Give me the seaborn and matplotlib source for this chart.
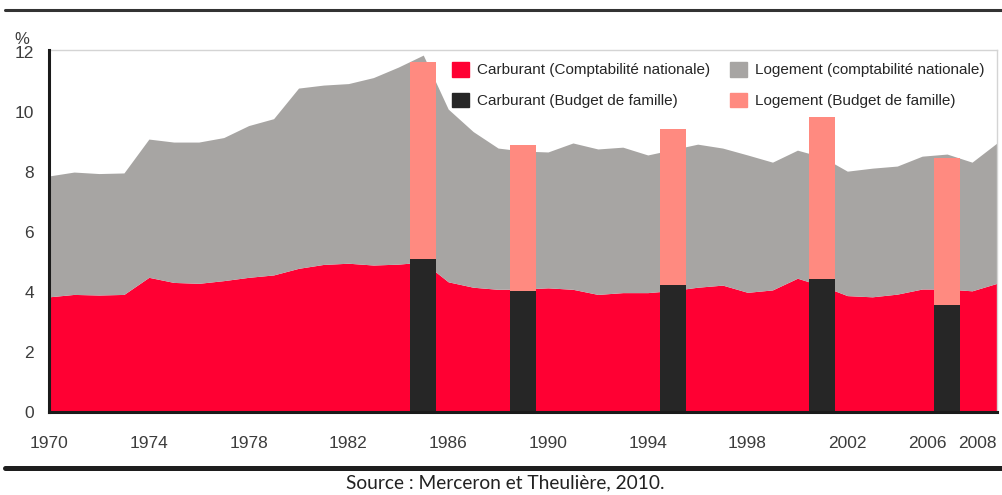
import numpy as np
import matplotlib
matplotlib.use("Agg")
import matplotlib.pyplot as plt
import matplotlib.transforms as mtransforms
from matplotlib.patches import Patch
from matplotlib.lines import Line2D
import seaborn as sns

# Données (% de la consommation)
annees = list(range(1970, 2009))
carburant_cn = [3.84, 3.92, 3.90, 3.92, 4.49, 4.32, 4.29, 4.38, 4.49, 4.57,
                4.79, 4.92, 4.96, 4.90, 4.93, 5.00, 4.34, 4.16, 4.09, 4.10,
                4.14, 4.09, 3.92, 3.98, 3.98, 4.05, 4.16, 4.23, 3.99, 4.07,
                4.46, 4.20, 3.88, 3.84, 3.93, 4.10, 4.10, 4.04, 4.29]
logement_cn = [4.03, 4.08, 4.05, 4.05, 4.61, 4.68, 4.71, 4.77, 5.06, 5.21,
               6.01, 5.98, 5.99, 6.25, 6.57, 6.90, 5.76, 5.19, 4.71, 4.60,
               4.53, 4.88, 4.85, 4.85, 4.59, 4.70, 4.77, 4.57, 4.58, 4.26,
               4.27, 4.30, 4.15, 4.29, 4.27, 4.43, 4.50, 4.29, 4.68]

annees_bdf = [1985, 1989, 1995, 2001, 2006]
carburant_bdf = [5.10, 4.03, 4.23, 4.43, 3.57]
logement_bdf = [6.57, 4.87, 5.20, 5.40, 4.90]

ticks_x = [1970, 1974, 1978, 1982, 1986, 1990, 1994, 1998, 2002, 2006, 2008]
ticks_y = [0, 2, 4, 6, 8, 10, 12]

labels = ["Carburant (Comptabilité nationale)", "Carburant (Budget de famille)",
          "Logement (comptabilité nationale)", "Logement (Budget de famille)"]

ROUGE = "#ff0033"
NOIR = "#262626"
GRIS = "#a7a5a3"
ROSE = "#ff8a80"

sns.set_style("white")
plt.rcParams["font.family"] = ["Liberation Sans", "DejaVu Sans"]

fig = plt.figure(figsize=(10.02, 4.95), dpi=100)
ax = fig.add_axes([0.049, 0.1677, 0.946, 0.7313])

ax.stackplot(annees, carburant_cn, logement_cn, colors=[ROUGE, GRIS], linewidth=0)
ax.bar(annees_bdf, carburant_bdf, width=1.05, color=NOIR, linewidth=0, zorder=3)
ax.bar(annees_bdf, logement_bdf, width=1.05, bottom=carburant_bdf, color=ROSE,
       linewidth=0, zorder=3)

ax.set_xlim(1970, 2008)
ax.set_ylim(0, 12.07)
ax.set_xticks(ticks_x)
ax.set_xticklabels([str(t) for t in ticks_x])
ax.set_yticks(ticks_y)
ax.set_yticklabels([str(t) for t in ticks_y])

ax.tick_params(axis="x", direction="in", length=4, width=1.5, color="#222222",
               pad=17, labelsize=12.5, labelcolor="#3c3c3c")
ax.tick_params(axis="y", direction="in", length=4, width=1.5, color="#222222",
               pad=11, labelsize=12.5, labelcolor="#3c3c3c")
for t in ax.get_xticklabels()[-2:]:
    t.set_transform(t.get_transform() + mtransforms.ScaledTranslation(-0.2, 0, fig.dpi_scale_trans))

for side in ["left", "bottom"]:
    ax.spines[side].set_color("#1a1a1a")
    ax.spines[side].set_linewidth(2.2)
    ax.spines[side].set_zorder(5)
for side in ["top", "right"]:
    ax.spines[side].set_color("#d4d4d4")
    ax.spines[side].set_linewidth(1.0)

fig.text(0.014, 0.912, "%", fontsize=12, color="#3c3c3c")

handles = [Patch(color=ROUGE), Patch(color=NOIR), Patch(color=GRIS), Patch(color=ROSE)]
fig.legend(handles, labels, ncol=2, loc="upper left", bbox_to_anchor=(0.451, 0.875),
           frameon=False, fontsize=11, handlelength=1.1, handleheight=1.1,
           handletextpad=0.55, labelspacing=1.0, columnspacing=1.3,
           borderpad=0, borderaxespad=0)

# lignes de cadre du document
fig.add_artist(Line2D([0.005, 1.0], [0.979, 0.979], color="#333333", linewidth=2.2))
fig.add_artist(Line2D([0.005, 1.0], [0.054, 0.054], color="#1e1e1e", linewidth=3.6))

fig.text(0.504, 0.024, "Source : Merceron et Theulière, 2010.", ha="center", va="center",
         fontsize=13.8, family=["Lato", "DejaVu Sans"], color="#222222")

fig.savefig("out.png", dpi=100)
